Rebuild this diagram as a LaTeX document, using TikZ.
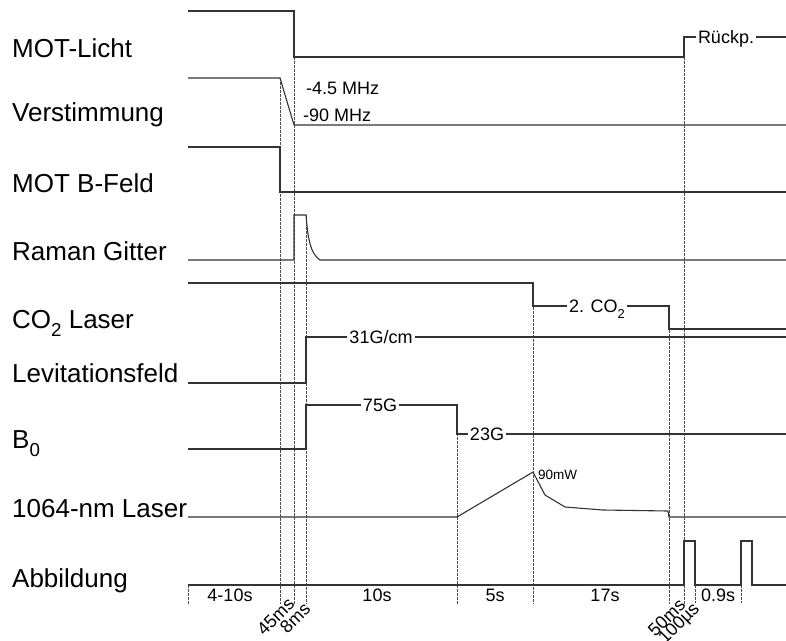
\documentclass[tikz,border=0pt]{standalone}
\usepackage{fontspec}
\setmainfont{Liberation Sans}
\newcommand{\lowsub}[1]{\raisebox{-0.6ex}{\scalebox{0.72}{#1}}}

\begin{document}
\begin{tikzpicture}[x=1pt, y=-1pt,
  sig/.style={line width=1.1pt, black!80},
  guide/.style={line width=0.6pt, black!70, dash pattern=on 2.5pt off 1.5pt},
  rowlbl/.style={anchor=base west, inner sep=0pt, font=\fontsize{26}{30}\selectfont},
  lvl/.style={fill=white, inner xsep=2pt, inner ysep=1pt, anchor=base, font=\fontsize{18}{21}\selectfont},
  dur/.style={anchor=base, inner sep=0pt, font=\fontsize{18}{21}\selectfont},
  tick/.style={anchor=east, rotate=45, inner sep=1pt, font=\fontsize{18}{21}\selectfont}]
\useasboundingbox (0,0) rectangle (786,640);

\draw[guide] (188,585) -- (188,604);
\draw[guide] (280,78) -- (280,604);
\draw[guide] (294,57) -- (294,604);
\draw[guide] (306,215) -- (306,604);
\draw[guide] (457,405) -- (457,604);
\draw[guide] (533,283) -- (533,604);
\draw[guide] (669,306) -- (669,604);
\draw[guide] (684,37) -- (684,604);
\draw[guide] (695,585) -- (695,603);
\draw[guide] (741,585) -- (741,603);

\draw[sig] (188,11) -- (294,11) -- (294,57) -- (684,57) -- (684,37) -- (786,37);
\draw[sig] (188,78) -- (280,78) -- (294,125) -- (786,125);
\draw[sig] (188,147) -- (280,147) -- (280,192) -- (786,192);
\draw[sig] (188,260) -- (294,260) -- (294,215) -- (306,215) .. controls (308,241) and (311,254) .. (320,260) -- (786,260);
\draw[sig] (188,283) -- (533,283) -- (533,306) -- (669,306) -- (669,329) -- (786,329);
\draw[sig] (188,383) -- (306,383) -- (306,337) -- (786,337);
\draw[sig] (188,449) -- (306,449) -- (306,405) -- (457,405) -- (457,434) -- (786,434);
\draw[sig] (188,517) -- (457,517) -- (533,472) -- (545,495) -- (565,507) -- (603,510) -- (668,511) -- (669,517) -- (786,517);
\draw[sig] (188,585) -- (684,585) -- (684,541) -- (695,541) -- (695,585) -- (741,585) -- (741,541) -- (752,541) -- (752,585) -- (786,585);

\node[rowlbl] (motlicht) at (12,57) {MOT-Licht};
\node[rowlbl] (verst) at (12,121) {Verstimmung};
\node[rowlbl] (bfeld) at (12,192) {MOT B-Feld};
\node[rowlbl] (raman) at (12,260) {Raman Gitter};
\node[rowlbl] (cotwo) at (12,328) {CO\lowsub{2} Laser};
\node[rowlbl] (levit) at (12,382) {Levitationsfeld};
\node[rowlbl] (bnull) at (12,448) {B\lowsub{0}};
\node[rowlbl] (nir) at (12,517) {1064-nm Laser};
\node[rowlbl] (abb) at (12,587) {Abbildung};

\node[lvl] (rueckp) at (726,43.5) {Rückp.};
\node[lvl, anchor=base west, fill=none, inner sep=0pt] (vstart) at (306,94) {-4.5 MHz};
\node[lvl, anchor=base west, fill=none, inner sep=0pt] (vend) at (303,121) {-90 MHz};
\node[lvl] (cozwei) at (597,312.5) {2. CO\lowsub{2}};
\node[lvl] (gradb) at (381,343.5) {31G/cm};
\node[lvl] (bhoch) at (380,411.5) {75G};
\node[lvl] (bnied) at (487,440.5) {23G};
\node[anchor=base west, inner sep=0pt, font=\fontsize{13.5}{15}\selectfont] (pmax) at (538,479) {90mW};

\node[dur] (t1) at (230,601) {4-10s};
\node[dur] (t2) at (377,601) {10s};
\node[dur] (t3) at (495,601) {5s};
\node[dur] (t4) at (605,601) {17s};
\node[dur] (t5) at (718,601) {0.9s};

\node[tick] (d1) at (292,600) {45ms};
\node[tick] (d2) at (308,605) {8ms};
\node[tick] (d3) at (683,601) {50ms};
\node[tick] (d4) at (698,606) {100µs};

\end{tikzpicture}
\end{document}
